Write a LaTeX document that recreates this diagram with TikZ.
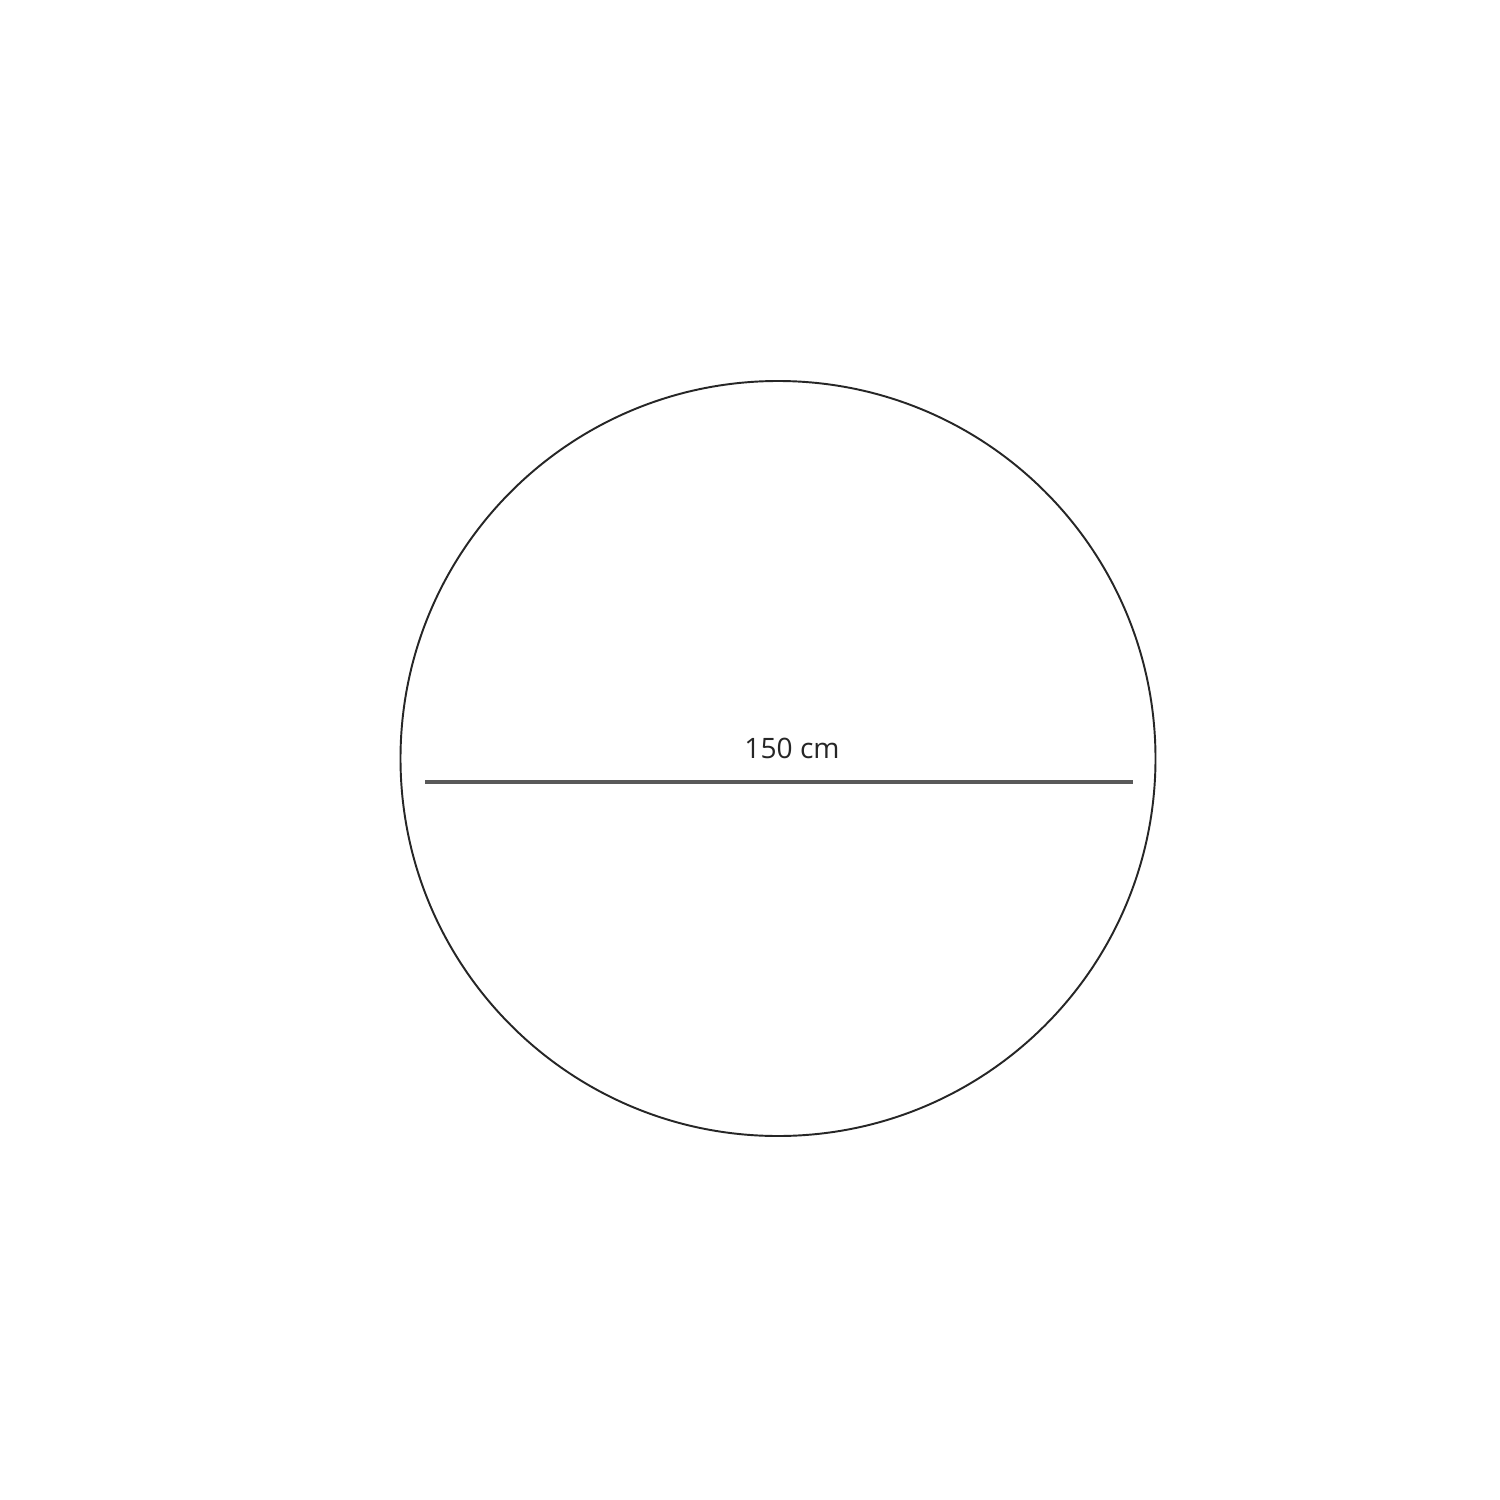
\documentclass[tikz,border=0pt]{standalone}
\usepackage{fontspec}
\setmainfont{Open Sans}
\begin{document}
\begin{tikzpicture}[x=0.01cm,y=-0.01cm,
  rim/.style={draw=black!85,line width=0.55pt},
  dimline/.style={draw=black!65,line width=0.9pt},
  dimlabel/.style={font=\fontsize{8}{9}\selectfont,text=black!85,inner sep=0pt,anchor=base}]
\useasboundingbox[fill=white] (0,0) rectangle (1500,1500);
\node[rim,circle,minimum size=755*0.01cm,inner sep=0pt] (disc) at (778,758.5) {};
\coordinate (l) at (425,782);
\coordinate (r) at (1133,782);
\draw[dimline] (l) -- (r);
\node[dimlabel] (lab) at (792,758) {150 cm};
\end{tikzpicture}
\end{document}
